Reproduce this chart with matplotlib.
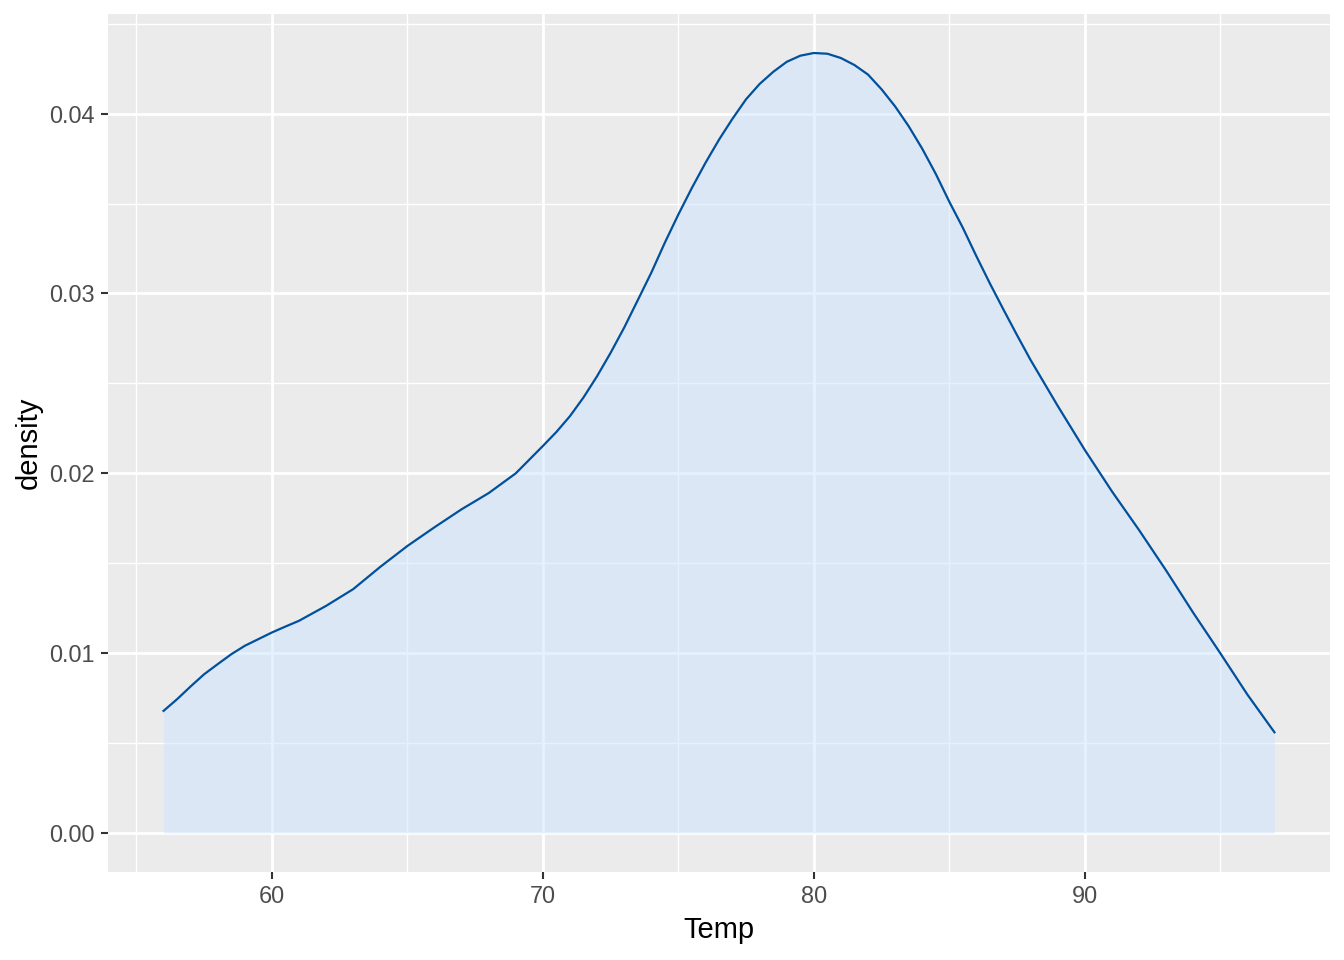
import matplotlib
matplotlib.use("Agg")
import matplotlib.pyplot as plt
from matplotlib.ticker import MultipleLocator, FormatStrFormatter

plt.rcParams['font.family'] = ['Liberation Sans', 'DejaVu Sans']

temp = [56, 56.5, 57, 57.5, 58, 58.5, 59, 59.5, 60, 60.5, 61, 62, 63, 64,
        65, 66, 67, 68, 69, 70, 70.5, 71, 71.5, 72, 72.5, 73, 73.5, 74,
        74.5, 75, 75.5, 76, 76.5, 77, 77.5, 78, 78.5, 79, 79.5, 80, 80.5,
        81, 81.5, 82, 82.5, 83, 83.5, 84, 84.5, 85, 85.5, 86, 86.5, 87,
        87.5, 88, 89, 90, 91, 92, 93, 94, 95, 96, 97]
density = [0.00679, 0.00744, 0.00815, 0.00883, 0.00939, 0.00994, 0.01041,
           0.01078, 0.01115, 0.01148, 0.01180, 0.01263, 0.01356, 0.01480,
           0.01596, 0.01700, 0.01800, 0.01890, 0.02000, 0.02152, 0.02230,
           0.02318, 0.02422, 0.02540, 0.02670, 0.02810, 0.02962, 0.03115,
           0.03282, 0.03439, 0.03587, 0.03726, 0.03855, 0.03972, 0.04080,
           0.04165, 0.04232, 0.04288, 0.04322, 0.04337, 0.04333, 0.04309,
           0.04270, 0.04217, 0.04135, 0.04040, 0.03930, 0.03805, 0.03665,
           0.03510, 0.03365, 0.03207, 0.03055, 0.02910, 0.02768, 0.02630,
           0.02375, 0.02130, 0.01900, 0.01685, 0.01460, 0.01225, 0.01000,
           0.00770, 0.00560]

x_ticks = [60, 70, 80, 90]
y_ticks = [0.00, 0.01, 0.02, 0.03, 0.04]

fig = plt.figure(figsize=(13.44, 9.6), dpi=100)
ax = fig.add_axes([108/1344, 1 - 872/960, (1330-108)/1344, (872-14)/960])
ax.set_facecolor('#EBEBEB')

ax.fill_between(temp, density, 0, color='#CCE5FF', alpha=0.5, linewidth=0, zorder=3)
ax.plot(temp, density, color='#00509D', linewidth=1.6, zorder=4,
        solid_joinstyle='round')

xr = max(temp) - min(temp)
ax.set_xlim(min(temp) - 0.05*xr, max(temp) + 0.05*xr)
yr = max(density)
ax.set_ylim(-0.05*yr, yr*1.05)

ax.set_xticks(x_ticks)
ax.set_yticks(y_ticks)
ax.xaxis.set_minor_locator(MultipleLocator(5))
ax.yaxis.set_minor_locator(MultipleLocator(0.005))
ax.yaxis.set_major_formatter(FormatStrFormatter('%.2f'))

ax.grid(which='major', color='white', linewidth=2.0, zorder=1)
ax.grid(which='minor', color='white', linewidth=1.0, zorder=1)
ax.set_axisbelow(True)
for s in ax.spines.values():
    s.set_visible(False)

ax.tick_params(which='major', length=5.3, width=1.5, color='#333333',
               labelsize=16.9, labelcolor='#4D4D4D', pad=4)
ax.tick_params(which='minor', length=0)

ax.set_xlabel('Temp', fontsize=21, color='black', labelpad=6)
ax.set_ylabel('density', fontsize=21, color='black', labelpad=5)

fig.savefig('out.png', dpi=100)
